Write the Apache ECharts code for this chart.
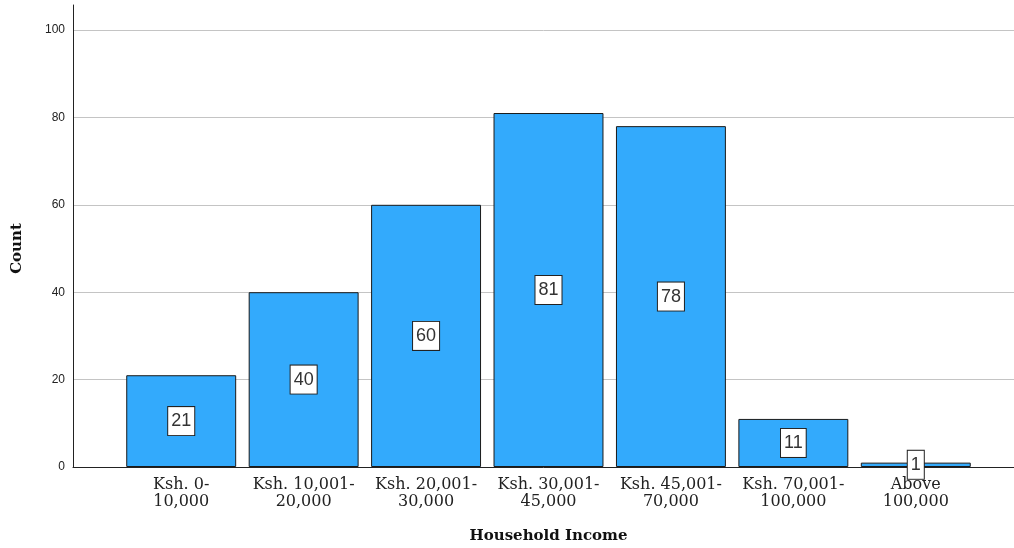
<!DOCTYPE html>
<html>
<head>
<meta charset="utf-8">
<script src="https://cdn.jsdelivr.net/npm/echarts@6/dist/echarts.min.js"></script>
<style>
  html, body { margin: 0; padding: 0; background: #fff; }
  #chart { width: 1014px; height: 548px; }
</style>
</head>
<body>
<div id="chart"></div>
<script>
// Household income brackets and respondent counts
const categories = [
  'Ksh. 0-\n10,000',
  'Ksh. 10,001-\n20,000',
  'Ksh. 20,001-\n30,000',
  'Ksh. 30,001-\n45,000',
  'Ksh. 45,001-\n70,000',
  'Ksh. 70,001-\n100,000',
  'Above\n100,000'
];
const counts = [21, 40, 60, 81, 78, 11, 1];
const yTicks = [0, 20, 40, 60, 80, 100];

const Y_MIN = 0;
const Y_MAX = 100;
const Y_STEP = 20;
const serif = '"DejaVu Serif", "Liberation Serif", serif';
const sans = '"Liberation Sans", Arial, sans-serif';

const chart = echarts.init(document.getElementById('chart'), null, { renderer: 'canvas' });

const plotBottom = 81;
const plotTop = 30;

chart.setOption({
  animation: false,
  backgroundColor: '#ffffff',
  grid: [
    // frame grid: tick labels, gridlines and baseline across full width
    { left: 73, right: 0, top: plotTop, bottom: plotBottom, outerBoundsMode: 'none' },
    // bar grid: category bands
    { left: 120, right: 37, top: plotTop, bottom: plotBottom, outerBoundsMode: 'none' },
    // vertical axis line, running a little above the top gridline
    { left: 73, right: 0, top: 5, bottom: plotBottom, outerBoundsMode: 'none' }
  ],
  xAxis: [
    {
      gridIndex: 0, type: 'value', min: 0, max: 1,
      axisLine: { show: true, lineStyle: { color: '#222', width: 1 } },
      axisTick: { show: false }, axisLabel: { show: false }, splitLine: { show: false }
    },
    {
      gridIndex: 1, type: 'category', data: categories,
      name: 'Household Income', nameLocation: 'middle', nameGap: 62,
      nameTextStyle: { fontFamily: serif, fontWeight: 'bold', fontSize: 15, color: '#111' },
      axisLine: { show: false }, axisTick: { show: false },
      axisLabel: {
        interval: 0, margin: 9, fontFamily: serif, fontSize: 16, lineHeight: 17, color: '#222'
      }
    },
    {
      gridIndex: 2, type: 'value', min: 0, max: 1, show: false
    }
  ],
  yAxis: [
    {
      gridIndex: 0, type: 'value', min: Y_MIN, max: Y_MAX, interval: Y_STEP,
      name: 'Count', nameLocation: 'middle', nameGap: 48, nameRotate: 90,
      nameTextStyle: { fontFamily: serif, fontWeight: 'bold', fontSize: 15, color: '#111' },
      axisLine: { show: false },
      axisTick: { show: false },
      axisLabel: {
        fontFamily: sans, fontSize: 12, color: '#222', margin: 8,
        formatter: v => (yTicks.includes(v) ? String(v) : '')
      },
      splitLine: { show: true, lineStyle: { color: '#c4c4c4', width: 1 } }
    },
    {
      gridIndex: 1, type: 'value', min: Y_MIN, max: Y_MAX, show: false
    },
    {
      gridIndex: 2, type: 'value', min: 0, max: 1,
      axisLine: { show: true, lineStyle: { color: '#222', width: 1 } },
      axisTick: { show: false }, axisLabel: { show: false }, splitLine: { show: false }
    }
  ],
  series: [{
    type: 'bar',
    xAxisIndex: 1, yAxisIndex: 1,
    data: counts,
    barCategoryGap: '10.2%',
    itemStyle: { color: '#33aafc', borderColor: '#1a1a1a', borderWidth: 1 },
    label: {
      show: true, position: 'inside',
      fontFamily: sans, fontSize: 18, lineHeight: 20, color: '#333',
      backgroundColor: '#ffffff', borderColor: '#222', borderWidth: 1,
      padding: [4, 3]
    }
  }]
});
</script>
</body>
</html>
